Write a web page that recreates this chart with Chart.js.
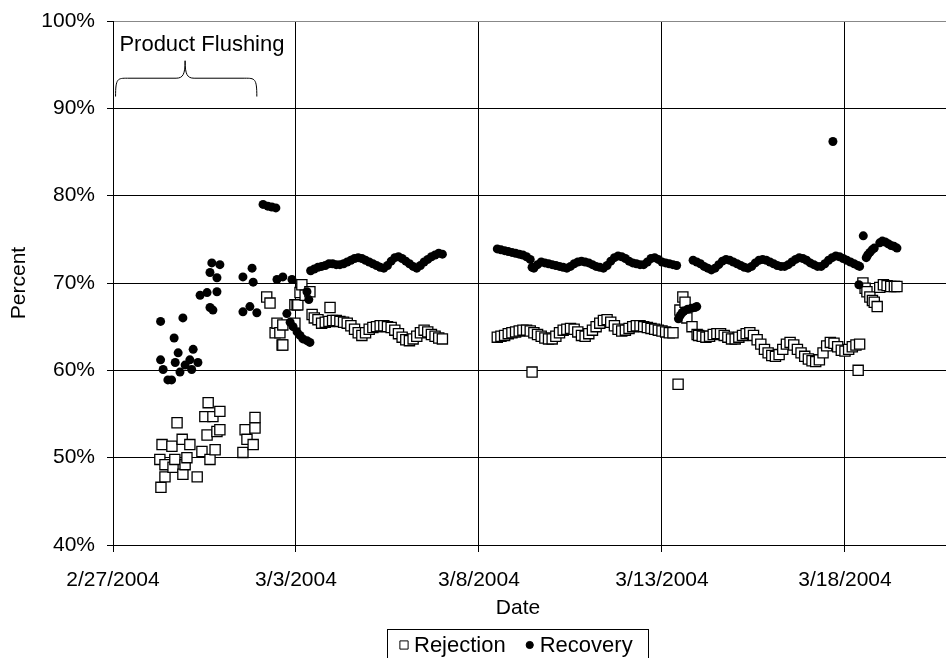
<!DOCTYPE html>
<html>
<head>
<meta charset="utf-8">
<script src="https://cdn.jsdelivr.net/npm/chart.js@4.4.1/dist/chart.umd.min.js"></script>
<style>
  html, body { margin: 0; padding: 0; background: #fff; }
  #wrap { width: 946px; height: 658px; }
</style>
</head>
<body>
<div id="wrap"><canvas id="perm" width="946" height="658"></canvas></div>
<script>
// Days after 2/27/2004 and percent values
const rejDays = [
  1.31, 1.28, 1.34, 1.42, 1.42, 1.61, 1.64, 1.69, 1.75, 1.89, 1.91, 1.97, 2.02, 2.10, 2.30,
  2.43, 2.51, 2.57, 2.60, 2.65, 2.73, 2.79, 2.84, 2.92, 2.92,
  3.55, 3.61, 3.66, 3.83, 3.88, 3.88,
  4.20, 4.29, 4.43, 4.48, 4.56, 4.62, 4.64, 4.64, 4.97, 4.97, 5.03, 5.05, 5.11, 5.16, 5.25, 5.38, 5.44,
  5.5, 5.6, 5.7, 5.8, 5.9, 5.93, 6.0, 6.1, 6.2, 6.3, 6.4, 6.5, 6.6, 6.7, 6.8, 6.9, 7.0, 7.1, 7.2, 7.3,
  7.4, 7.5, 7.6, 7.7, 7.8, 7.9, 8.0, 8.1, 8.2, 8.3, 8.4, 8.5, 8.6, 8.7, 8.8, 8.9, 9.0,
  10.5, 10.6, 10.7, 10.8, 10.9, 11.0, 11.1, 11.2, 11.3, 11.4, 11.45, 11.5, 11.6, 11.7, 11.8, 11.9, 12.0,
  12.1, 12.2, 12.3, 12.4, 12.5, 12.6, 12.7, 12.8, 12.9, 13.0, 13.1, 13.2, 13.3, 13.4, 13.5, 13.6,
  13.7, 13.8, 13.9, 14.0, 14.1, 14.2, 14.3, 14.4, 14.5, 14.6, 14.7, 14.8, 14.9, 15.0, 15.1, 15.2, 15.3,
  15.44, 15.49, 15.57, 15.63, 15.68, 15.82, 15.96,
  16.0, 16.1, 16.2, 16.3, 16.4, 16.5, 16.6, 16.7, 16.8, 16.9, 17.0, 17.1, 17.2, 17.3, 17.4, 17.5,
  17.6, 17.7, 17.8, 17.9, 18.0, 18.1, 18.2, 18.3, 18.4, 18.5, 18.6, 18.7, 18.8, 18.9, 19.0, 19.1,
  19.2, 19.3, 19.4, 19.5, 19.6, 19.7, 19.8, 19.9, 20.0, 20.1, 20.2, 20.3, 20.36, 20.4,
  20.49, 20.55, 20.6, 20.68, 20.75, 20.8, 20.88, 20.95, 21.05, 21.15, 21.25, 21.35, 21.42
];
const rejPct = [
  46.6, 49.8, 51.5, 49.2, 47.8, 51.3, 48.9, 49.8, 54.0, 52.1, 48.1, 49.2, 50.0, 51.5, 47.8,
  50.7, 54.7, 52.6, 56.3, 49.8, 54.7, 50.9, 53.0, 55.3, 53.2,
  50.6, 53.2, 52.1, 51.5, 54.6, 53.4,
  68.4, 67.7, 64.3, 65.4, 64.3, 62.9, 65.2, 62.9, 67.5, 65.4, 67.5, 67.5, 68.9, 69.8, 68.6, 69.0, 66.4,
  66.0, 65.8, 65.4, 65.5, 65.6, 67.2, 65.7, 65.7, 65.6, 65.5, 65.4, 65.1, 64.7, 64.3, 64.0, 64.3, 64.7, 64.9, 65.0, 65.1,
  65.1, 65.0, 64.9, 64.6, 64.2, 63.8, 63.5, 63.4, 63.6, 63.9, 64.3, 64.6, 64.4, 64.1, 63.9, 63.7, 63.6,
  63.8, 63.9, 64.0, 64.2, 64.3, 64.4, 64.5, 64.6, 64.6, 64.5, 59.8, 64.3, 64.1, 63.9, 63.7, 63.6, 63.6,
  63.9, 64.3, 64.6, 64.7, 64.8, 64.7, 64.4, 64.0, 63.9, 64.2, 64.6, 65.0, 65.4, 65.7, 65.8, 65.5,
  65.1, 64.7, 64.5, 64.6, 64.8, 65.0, 65.1, 65.1, 65.0, 64.9, 64.8, 64.7, 64.6, 64.5, 64.4, 64.3, 64.3,
  58.4, 66.9, 68.4, 67.8, 66.0, 65.0, 64.1,
  64.0, 63.9, 63.8, 63.9, 64.1, 64.2, 64.2, 64.0, 63.8, 63.6, 63.6, 63.8, 64.0, 64.2, 64.3, 64.0,
  63.5, 63.0, 62.4, 62.0, 61.7, 61.6, 61.8, 62.4, 63.0, 63.2, 62.9, 62.4, 62.0, 61.6, 61.3, 61.1,
  61.0, 61.2, 62.0, 62.8, 63.2, 63.1, 62.7, 62.3, 62.2, 62.4, 62.7, 62.9, 60.0, 63.0,
  70.0, 69.4, 69.0, 68.4, 68.0, 67.8, 67.3, 69.5, 69.8, 69.7, 69.6, 69.6, 69.6
];

const recDays = [
  1.30, 1.30, 1.37, 1.50, 1.60, 1.67, 1.70, 1.78, 1.83, 1.91, 1.97, 2.10, 2.15, 2.19, 2.32,
  2.38, 2.57, 2.65, 2.65, 2.70, 2.73, 2.84, 2.84, 2.92,
  3.55, 3.55, 3.74, 3.80, 3.83, 3.93, 4.10, 4.23, 4.34, 4.45, 4.48, 4.64, 4.89,
  4.75, 4.84, 4.92, 5.03, 5.11, 5.19, 5.30, 5.38, 5.30, 5.35,
  5.4, 5.5, 5.6, 5.7, 5.8, 5.9, 6.0, 6.1, 6.2, 6.3, 6.4, 6.5, 6.6, 6.7, 6.8, 6.9, 7.0, 7.1, 7.2,
  7.3, 7.4, 7.5, 7.6, 7.7, 7.8, 7.9, 8.0, 8.1, 8.2, 8.3, 8.4, 8.5, 8.6, 8.7, 8.8, 8.9, 9.0,
  10.5, 10.6, 10.7, 10.8, 10.9, 11.0, 11.1, 11.2, 11.3, 11.4, 11.45, 11.5, 11.6, 11.7, 11.8, 11.9,
  12.0, 12.1, 12.2, 12.3, 12.4, 12.5, 12.6, 12.7, 12.8, 12.9, 13.0, 13.1, 13.2, 13.3, 13.4, 13.5,
  13.6, 13.7, 13.8, 13.9, 14.0, 14.1, 14.2, 14.3, 14.4, 14.5, 14.6, 14.7, 14.8, 14.9, 15.0, 15.1,
  15.2, 15.3, 15.4,
  15.45, 15.5, 15.55, 15.6, 15.7, 15.8, 15.9, 15.95,
  15.85, 15.95, 16.05, 16.15, 16.25, 16.35, 16.45, 16.55, 16.65, 16.75, 16.85, 16.95, 17.05, 17.15,
  17.25, 17.35, 17.45, 17.55, 17.65, 17.75, 17.85, 17.95, 18.05, 18.15, 18.25, 18.35, 18.45, 18.55,
  18.65, 18.75, 18.85, 18.95, 19.05, 19.15, 19.25, 19.35, 19.45, 19.55, 19.65, 19.75, 19.85, 19.95,
  20.05, 20.15, 20.25, 20.35, 20.4, 19.67,
  20.38, 20.5, 20.58, 20.62, 20.68, 20.74, 20.8, 20.95, 21.02, 21.1, 21.18, 21.26, 21.34, 21.42
];
const recPct = [
  65.6, 61.2, 60.1, 58.9, 58.9, 63.7, 60.9, 62.0, 59.8, 66.0, 60.6, 61.2, 60.1, 62.4, 60.9,
  68.6, 68.9, 71.2, 67.2, 72.3, 66.9, 70.6, 69.0, 72.1,
  70.7, 66.7, 67.3, 71.7, 70.1, 66.6, 79.0, 78.8, 78.7, 78.6, 70.4, 70.7, 70.4,
  66.5, 65.5, 65.0, 64.4, 64.0, 63.6, 63.4, 63.2, 69.0, 68.1,
  71.4, 71.6, 71.8, 71.9, 72.0, 72.2, 72.2, 72.1, 72.1, 72.2, 72.4, 72.6, 72.8, 72.9, 72.8, 72.6, 72.4, 72.2, 72.0,
  71.8, 71.7, 72.0, 72.5, 72.9, 73.0, 72.8, 72.5, 72.2, 71.9, 71.7, 72.0, 72.4, 72.7, 73.0, 73.2, 73.4, 73.3,
  73.9, 73.8, 73.7, 73.6, 73.5, 73.4, 73.3, 73.2, 73.0, 72.7, 71.8, 71.7, 72.1, 72.4, 72.3, 72.2,
  72.1, 72.0, 71.9, 71.8, 71.7, 71.9, 72.2, 72.4, 72.5, 72.4, 72.3, 72.1, 71.9, 71.8, 71.7, 72.0,
  72.5, 72.9, 73.1, 73.0, 72.8, 72.5, 72.3, 72.2, 72.1, 72.1, 72.4, 72.8, 72.9, 72.7, 72.4, 72.3,
  72.2, 72.1, 72.0,
  65.9, 66.3, 66.6, 66.8, 67.0, 67.1, 67.2, 67.3,
  72.6, 72.4, 72.2, 71.9, 71.7, 71.5, 71.7, 72.1, 72.5, 72.7, 72.6, 72.4, 72.2, 72.0,
  71.8, 71.7, 71.9, 72.3, 72.6, 72.7, 72.6, 72.4, 72.2, 72.0, 71.9, 71.9, 72.1, 72.4,
  72.7, 72.9, 72.8, 72.6, 72.3, 72.1, 71.9, 71.9, 72.2, 72.6, 72.9, 73.1, 73.0, 72.8,
  72.6, 72.4, 72.2, 72.0, 71.9, 86.2,
  69.8, 75.4, 72.9, 73.2, 73.5, 73.8, 74.0, 74.6, 74.8, 74.7, 74.5, 74.3, 74.2, 74.0
];

const dateTicks = ['2/27/2004', '3/3/2004', '3/8/2004', '3/13/2004', '3/18/2004'];
const seriesNames = ['Rejection', 'Recovery'];

const FONT = 'Liberation Sans, Arial, sans-serif';
Chart.defaults.font.family = FONT;
Chart.defaults.font.size = 21;
Chart.defaults.color = '#000';

// brace + label over the flushing period
const flushNote = {
  id: 'flushNote',
  afterDraw(chart) {
    const { ctx, scales: { x, y } } = chart;
    const px = v => x.getPixelForValue(v);
    const py = v => y.getPixelForValue(v);
    const x0 = px(0.07), x1 = px(3.93), xm = px(1.97);
    const yb = py(91.35), yh = py(93.45), yt = py(95.45);
    ctx.save();
    ctx.strokeStyle = '#000';
    ctx.lineWidth = 1;
    ctx.beginPath();
    ctx.moveTo(x0, yb);
    ctx.bezierCurveTo(x0, yh, x0 + 2, yh, x0 + 12, yh);
    ctx.lineTo(xm - 9, yh);
    ctx.bezierCurveTo(xm - 2, yh, xm, yh - 4, xm, yt);
    ctx.bezierCurveTo(xm, yh - 4, xm + 2, yh, xm + 9, yh);
    ctx.lineTo(x1 - 12, yh);
    ctx.bezierCurveTo(x1 - 2, yh, x1, yh, x1, yb);
    ctx.stroke();
    ctx.font = '22px ' + FONT;
    ctx.fillStyle = '#000';
    ctx.textAlign = 'center';
    ctx.textBaseline = 'alphabetic';
    ctx.fillText('Product Flushing', px(2.43), py(96.6));
    ctx.restore();
  }
};

// axis title "Date" and the boxed legend under it
const boxLegend = {
  id: 'boxLegend',
  afterDraw(chart) {
    const ctx = chart.ctx;
    const ds = chart.data.datasets;
    ctx.save();
    ctx.fillStyle = '#000';
    ctx.font = '21px ' + FONT;
    ctx.textAlign = 'center';
    ctx.textBaseline = 'middle';
    ctx.fillText('Date', 518, 608);

    ctx.font = '22px ' + FONT;
    ctx.textAlign = 'left';
    const cy = 645;
    const left = 387, right = 648, top = 629;
    ctx.strokeStyle = '#000';
    ctx.lineWidth = 1;
    ctx.strokeRect(left + 0.5, top + 0.5, right - left, 60);
    let cx = 400;
    ds.forEach((d, i) => {
      ctx.fillStyle = d.pointBackgroundColor;
      ctx.strokeStyle = '#000';
      Chart.helpers.drawPoint(ctx, {
        pointStyle: d.pointStyle,
        radius: i === 0 ? 5.8 : 3.6,
        borderWidth: 1
      }, cx + 4, cy);
      ctx.fillStyle = '#000';
      ctx.fillText(d.label, cx + 14, cy + 1);
      cx += 14 + ctx.measureText(d.label).width + 20;
    });
    ctx.restore();
  }
};

new Chart(document.getElementById('perm'), {
  type: 'scatter',
  data: {
    datasets: [
      {
        label: seriesNames[0],
        data: rejDays.map((d, i) => ({ x: d, y: rejPct[i] })),
        pointStyle: 'rect',
        pointRadius: 7.2,
        pointBackgroundColor: '#fff',
        pointBorderColor: '#000',
        pointBorderWidth: 1.3,
        backgroundColor: '#fff',
        borderColor: '#000',
        order: 2
      },
      {
        label: seriesNames[1],
        data: recDays.map((d, i) => ({ x: d, y: recPct[i] })),
        pointStyle: 'circle',
        pointRadius: 4.5,
        pointBackgroundColor: '#000',
        pointBorderColor: '#000',
        pointBorderWidth: 0,
        backgroundColor: '#000',
        borderColor: '#000',
        order: 1
      }
    ]
  },
  options: {
    responsive: false,
    animation: false,
    layout: { autoPadding: false, padding: { top: 21, right: 0, bottom: 0, left: 0 } },
    plugins: {
      legend: { display: false },
      tooltip: { enabled: false }
    },
    scales: {
      x: {
        type: 'linear',
        min: 0,
        max: 22.76,
        afterFit: s => { s.height = 113; s.paddingLeft = 0; s.paddingRight = 0; },
        ticks: {
          stepSize: 5,
          includeBounds: false,
          padding: 16,
          maxRotation: 0,
          callback: v => dateTicks[Math.round(v / 5)]
        },
        grid: { color: '#000', tickColor: '#000', tickLength: 7, lineWidth: 1 },
        border: { color: '#000', width: 1 }
      },
      y: {
        min: 40,
        max: 100,
        afterFit: s => { s.width = 113; s.paddingTop = 0; s.paddingBottom = 0; },
        ticks: {
          stepSize: 10,
          padding: 12,
          callback: v => v + '%'
        },
        grid: {
          color: c => (c.tick && c.tick.value === 100 ? '#888' : '#000'),
          tickColor: '#000',
          tickLength: 6,
          lineWidth: 1
        },
        border: { color: '#000', width: 1 },
        title: { display: true, text: 'Percent', padding: { top: 7, bottom: 0 } }
      }
    }
  },
  plugins: [flushNote, boxLegend]
});
</script>
</body>
</html>
